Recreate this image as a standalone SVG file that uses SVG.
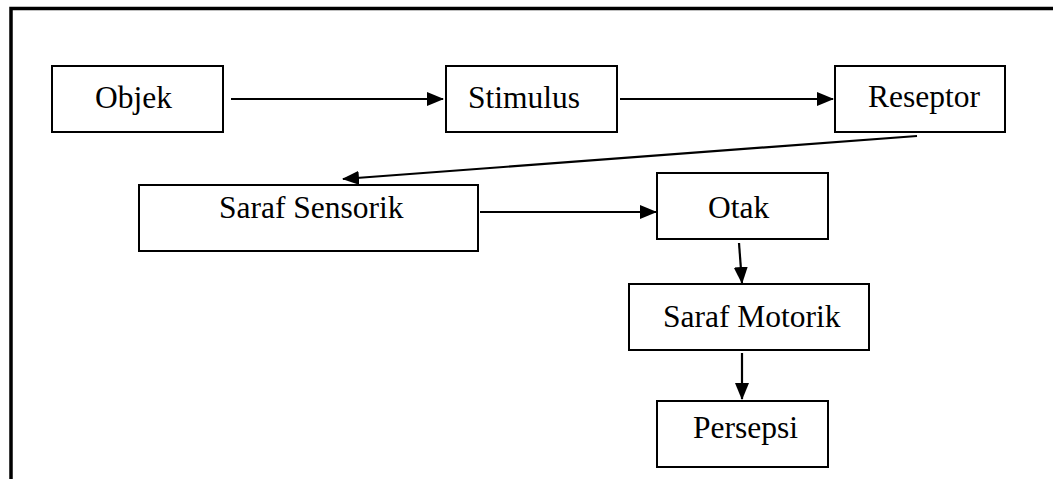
<svg xmlns="http://www.w3.org/2000/svg" width="1053" height="479" viewBox="0 0 1053 479">
<style>
.box{fill:#fff;stroke:#000;stroke-width:2}
.lbl{font-size:31.5px;fill:#000}
.con{stroke:#000;stroke-width:2.2;fill:none}
</style>
<defs>
<marker id="ah" markerWidth="17" markerHeight="14" refX="16" refY="7" orient="auto" markerUnits="userSpaceOnUse">
<path d="M0,0 L17,7 L0,14 Z" fill="#000"/>
</marker>
</defs>
<rect width="1053" height="479" fill="#fff"/>
<path d="M11,479 L11,8.5 L1053,8.5" fill="none" stroke="#000" stroke-width="3.5"/>
<g font-family="'Liberation Serif', 'Times New Roman', Times, serif">
<g id="objek"><rect class="box" x="52" y="66" width="171" height="66"/><text class="lbl" x="95" y="108">Objek</text></g>
<g id="stimulus"><rect class="box" x="446" y="66" width="171" height="66"/><text class="lbl" x="468" y="108">Stimulus</text></g>
<g id="reseptor"><rect class="box" x="835" y="66" width="170" height="66"/><text class="lbl" x="868" y="107">Reseptor</text></g>
<g id="saraf-sensorik"><rect class="box" x="139" y="185" width="339" height="66"/><text class="lbl" x="219" y="218">Saraf Sensorik</text></g>
<g id="otak"><rect class="box" x="657" y="173" width="171" height="66"/><text class="lbl" x="708" y="218">Otak</text></g>
<g id="saraf-motorik"><rect class="box" x="629" y="284" width="240" height="66"/><text class="lbl" x="663" y="327">Saraf Motorik</text></g>
<g id="persepsi"><rect class="box" x="657" y="401" width="171" height="66"/><text class="lbl" x="693" y="438">Persepsi</text></g>
</g>
<g id="connectors">
<line class="con" x1="231" y1="99" x2="443" y2="99" marker-end="url(#ah)"/>
<line class="con" x1="620" y1="99" x2="833" y2="99" marker-end="url(#ah)"/>
<line class="con" x1="917" y1="136" x2="343" y2="179" marker-end="url(#ah)"/>
<line class="con" x1="480" y1="212" x2="656" y2="212" marker-end="url(#ah)"/>
<line class="con" x1="739" y1="243" x2="742" y2="283" marker-end="url(#ah)"/>
<line class="con" x1="742" y1="353" x2="742" y2="399" marker-end="url(#ah)"/>
</g>
</svg>
